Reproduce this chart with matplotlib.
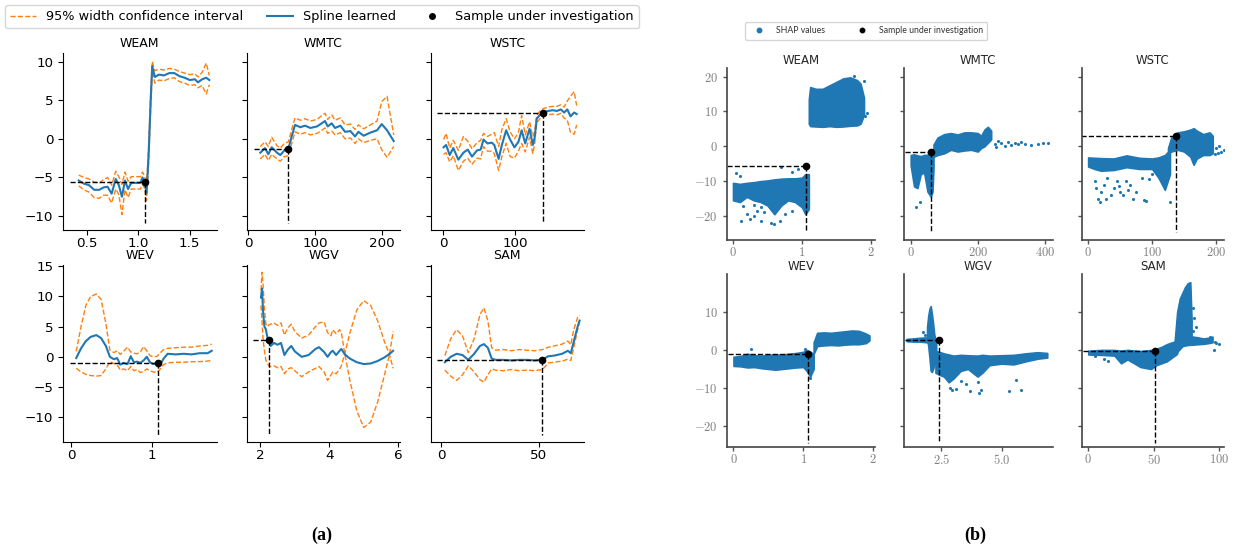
import matplotlib
matplotlib.use("Agg")
import matplotlib.pyplot as plt
from matplotlib.lines import Line2D
from matplotlib.ticker import FuncFormatter

W, H = 1233, 552
BLUE = "#1f77b4"
ORANGE = "#ff7f0e"
plt.rcParams["mathtext.fontset"] = "cm"

# ---------------- (a) learned splines ----------------
WEAM_X = [0.42, 0.47, 0.52, 0.57, 0.62, 0.66, 0.70, 0.74, 0.78, 0.81, 0.84, 0.87, 0.90, 0.93, 0.97,
          1.02, 1.04, 1.06, 1.08, 1.10, 1.12, 1.135, 1.16, 1.20, 1.25, 1.30, 1.35, 1.40, 1.45, 1.50,
          1.55, 1.58, 1.62, 1.66, 1.69]
WEAM_MID = [-5.4, -5.8, -6.0, -6.6, -6.6, -6.3, -6.2, -7.1, -5.2, -6.0, -7.5, -5.4, -6.5, -5.7, -5.7,
            -5.7, -5.0, -5.6, -7.0, -2.0, 5.0, 9.4, 8.0, 8.3, 8.2, 8.5, 8.5, 8.1, 7.9, 7.6,
            7.7, 7.3, 7.7, 7.9, 7.6]
WEAM_UP = [-4.7, -5.0, -5.2, -5.6, -5.7, -5.3, -5.0, -6.0, -4.2, -4.9, -5.9, -4.3, -5.5, -4.9, -4.9,
           -4.9, -4.3, -4.8, -6.0, -1.0, 6.0, 10.0, 8.8, 9.0, 8.9, 9.1, 9.0, 8.7, 8.5, 8.3,
           8.4, 8.0, 8.6, 9.8, 8.2]
WEAM_LO = [-6.1, -6.6, -6.9, -7.6, -7.7, -7.3, -7.3, -8.3, -6.5, -7.2, -9.8, -6.6, -7.6, -6.5, -6.5,
           -6.5, -5.9, -6.4, -8.0, -3.0, 4.0, 8.7, 7.2, 7.6, 7.5, 7.8, 7.9, 7.4, 7.2, 6.9,
           7.0, 6.6, 6.9, 5.8, 7.0]

WMTC_X = [18, 25, 30, 35, 43, 48, 54, 60, 65, 70, 78, 85, 93, 103, 110, 115, 119, 125, 130, 138,
          145, 153, 160, 165, 173, 183, 193, 200, 208, 218]
WMTC_MID = [-1.8, -1.2, -2.0, -1.1, -1.8, -2.1, -1.5, -1.3, 0.3, 1.8, 1.5, 1.7, 1.4, 1.6, 2.0, 2.3,
            1.6, 2.0, 1.4, 1.7, 0.9, 1.0, 0.3, 0.9, 0.4, 0.8, 1.1, 1.9, 1.1, -0.3]
WMTC_UP = [-1.0, -0.4, -1.0, 0.2, -0.9, -1.2, -0.6, -0.4, 1.2, 2.7, 2.4, 2.6, 2.3, 2.5, 3.0, 3.3,
           2.5, 3.1, 2.4, 2.7, 1.8, 1.9, 1.2, 1.8, 1.3, 1.8, 2.3, 4.8, 5.5, 0.5]
WMTC_LO = [-2.6, -2.0, -2.8, -2.0, -2.6, -2.9, -2.3, -2.2, -0.6, 0.9, 0.6, 0.8, 0.5, 0.7, 1.1, 1.4,
           0.7, 1.0, 0.5, 0.8, 0.0, 0.1, -0.6, 0.0, -0.5, -0.2, 0.0, -1.4, -2.4, -1.0]

WSTC_X = [0.5, 4, 9, 14, 21, 28, 34, 40, 47, 52, 56, 61.5, 67.5, 71, 77, 81.5, 87.5, 93, 99, 104.5,
          109, 114, 120, 124.5, 127, 130, 134.5, 139, 146, 152, 158, 163.5, 168, 172.5, 177, 182, 185.5]
WSTC_MID = [-1.1, -0.8, -2.1, -1.2, -2.7, -1.8, -1.4, -2.3, -1.5, -1.4, -0.1, -0.6, -0.5, -0.8, -2.6,
            -0.8, 1.1, -0.1, -1.1, -0.4, 1.1, -0.6, 1.3, -0.8, 0.1, 2.6, 3.1, 3.4, 3.6, 3.7, 3.6,
            3.8, 3.4, 3.8, 2.9, 3.4, 3.2]
WSTC_UP = [-0.1, 0.7, -1.2, -0.2, -1.5, 0.3, -0.3, -1.3, -0.5, -0.2, 0.7, 0.3, 0.6, 0.8, -1.0,
           1.2, 2.6, 0.9, 0.0, 0.8, 3.0, 0.5, 2.2, 0.3, 0.9, 3.0, 3.6, 3.9, 4.1, 4.2, 4.2,
           4.4, 4.1, 4.9, 5.5, 6.1, 4.3]
WSTC_LO = [-2.0, -1.8, -3.0, -2.2, -4.1, -2.9, -2.5, -3.3, -2.5, -2.6, -1.0, -1.6, -1.6, -1.9, -4.1,
           -2.3, -0.6, -2.3, -2.5, -1.6, -0.6, -1.7, 0.2, -1.9, -0.7, 2.1, 2.6, 2.9, 3.1, 3.2, 3.1,
           3.3, 2.7, 2.4, 0.8, 0.6, 1.8]

WEV_X = [0.06, 0.12, 0.18, 0.24, 0.31, 0.37, 0.43, 0.48, 0.53, 0.57, 0.61, 0.65, 0.70, 0.74, 0.78,
         0.82, 0.86, 0.90, 0.94, 0.98, 1.02, 1.07, 1.11, 1.15, 1.2, 1.3, 1.4, 1.5, 1.6, 1.7, 1.75]
WEV_MID = [-0.2, 1.4, 2.6, 3.3, 3.6, 3.1, 1.8, 0.0, -0.4, -0.2, -1.3, -1.0, -1.2, 0.1, -0.9,
           -0.8, -1.0, -0.6, 0.0, -0.9, -1.2, -1.0, -1.2, -0.3, 0.5, 0.4, 0.5, 0.4, 0.6, 0.6, 1.0]
WEV_UP = [0.9, 5.0, 8.5, 10.0, 10.4, 9.5, 5.5, 1.1, 0.7, 1.0, 0.4, 0.9, 1.6, 0.8, 0.6,
          0.5, 0.8, 1.7, 1.0, 0.2, 0.0, 0.1, 0.7, 1.2, 1.4, 1.5, 1.6, 1.6, 1.8, 1.9, 2.1]
WEV_LO = [-1.9, -2.5, -2.9, -3.1, -3.2, -3.1, -2.0, -0.8, -1.1, -1.3, -2.2, -2.0, -2.3, -1.6, -2.3,
          -2.1, -2.6, -2.4, -2.0, -2.3, -2.5, -2.6, -2.0, -1.3, -1.0, -0.9, -0.9, -0.8, -0.8, -0.7, -0.6]

WGV_X = [2.02, 2.05, 2.08, 2.12, 2.16, 2.2, 2.25, 2.3, 2.4, 2.5, 2.6, 2.7, 2.8, 2.9, 3.0, 3.2, 3.4,
         3.6, 3.7, 3.85, 3.95, 4.05, 4.1, 4.2, 4.3, 4.35, 4.45, 4.6, 4.8, 5.0, 5.2, 5.4, 5.6, 5.75, 5.85]
WGV_MID = [9.8, 11.3, 7.5, 5.0, 4.6, 3.4, 2.5, 1.8, 2.3, 2.0, 2.3, 0.3, 1.2, 1.8, 0.9, 0.0, 0.3,
           1.3, 1.6, 0.8, 0.0, 0.8, 1.0, 0.3, 1.0, 1.3, 0.4, -0.3, -0.9, -1.2, -1.1, -0.7, -0.1, 0.5, 1.0]
WGV_UP = [11.0, 14.0, 12.0, 8.0, 5.5, 5.0, 5.3, 5.4, 5.6, 5.2, 5.6, 3.6, 4.8, 5.4, 4.2, 3.1, 3.6,
          5.0, 5.6, 5.8, 4.0, 3.5, 4.5, 3.8, 4.5, 4.0, 0.5, -4.0, -9.0, -11.7, -10.8, -7.5, -3.0, 0.5, 4.2]
WGV_LO = [8.5, 6.0, 3.0, 1.0, -0.5, -1.0, -1.5, -1.6, -1.5, -1.8, -1.6, -2.8, -2.0, -1.8, -2.3, -3.3,
          -2.5, -1.9, -1.6, -2.5, -3.9, -3.0, -2.5, -2.8, -2.0, -1.5, 0.5, 4.0, 7.8, 9.3, 8.5, 6.0,
          2.5, 0.3, -1.9]

SAM_X = [2, 5, 8, 11, 14, 17, 20, 22, 24, 26, 28, 32, 36, 40, 44, 48, 52, 55, 58, 62, 65, 66.5, 68, 70, 71]
SAM_MID = [-0.9, 0.0, 0.5, 0.3, -0.5, 0.5, 1.8, 2.1, 1.5, -0.3, -0.5, -0.5, -0.6, -0.5, -0.5, -0.6,
           -0.45, 0.1, 0.2, 0.5, 1.0, 0.6, 2.5, 5.0, 6.0]
SAM_UP = [0.2, 3.0, 4.5, 3.5, 0.7, 3.0, 7.0, 8.1, 6.0, 1.5, 1.1, 1.2, 1.0, 1.2, 1.1, 1.0, 1.2, 1.6,
          1.8, 2.1, 2.6, 2.0, 4.5, 6.5, 6.9]
SAM_LO = [-2.2, -3.2, -3.9, -3.0, -1.5, -2.5, -3.8, -4.2, -3.0, -2.0, -2.2, -2.3, -2.1, -2.3, -2.2,
          -2.3, -2.1, -1.0, -0.9, -0.7, -0.4, -0.6, 1.5, 4.5, 5.8]

# sample under investigation: (x, y) and the ends of its guide lines
SPL_SAMPLE = {"WEAM": (1.06, -5.6), "WMTC": (60, -1.3), "WSTC": (139, 3.4),
              "WEV": (1.075, -1.0), "WGV": (2.24, 2.8), "SAM": (51.7, -0.45)}
SPL_HSTART = {"WEAM": 0.335, "WMTC": 9, "WSTC": -8, "WEV": -0.02, "WGV": 1.8, "SAM": -2}
SPL_VEND = {"WEAM": -10.9, "WMTC": -10.9, "WSTC": -10.9, "WEV": -12.9, "WGV": -12.9, "SAM": -12.9}

# ---------------- (b) SHAP clouds: (x, low, high) envelopes + loose points ----------------
S_WEAM_A_X = [0.0, 0.1, 0.2, 0.3, 0.4, 0.5, 0.6, 0.7, 0.8, 0.9, 1.0, 1.05, 1.1]
S_WEAM_A_HI = [-10.5, -10.8, -10.5, -10.3, -10.0, -9.8, -9.5, -9.3, -9.2, -9.2, -9.0, -8.0, -8.0]
S_WEAM_A_LO = [-15.5, -16.0, -14.5, -15.5, -16.0, -17.0, -19.5, -17.0, -15.5, -16.0, -17.5, -19.5, -18.0]
S_WEAM_B_X = [1.1, 1.12, 1.2, 1.3, 1.4, 1.5, 1.6, 1.7, 1.8, 1.85, 1.9]
S_WEAM_B_HI = [13.5, 17.0, 16.5, 16.5, 17.5, 18.5, 19.5, 19.8, 19.0, 18.0, 14.0]
S_WEAM_B_LO = [6.5, 5.8, 5.7, 5.6, 5.8, 5.6, 5.7, 5.9, 6.0, 6.5, 9.0]
S_WEAM_PX = [0.05, 0.1, 0.15, 0.2, 0.25, 0.3, 0.35, 0.4, 0.45, 0.55, 0.6, 0.68, 0.7, 0.75, 0.85, 0.95,
             0.85, 0.12, 0.3, 0.4, 1.95, 1.9, 1.75, 1.92]
S_WEAM_PY = [-7.8, -8.5, -17.0, -19.5, -21.0, -20.0, -18.5, -21.5, -19.0, -22.0, -22.3, -21.5, -6.0,
             -19.5, -7.5, -6.5, -18.5, -21.5, -16.8, -17.5, 9.5, 18.8, 20.3, 8.8]

S_WMTC_A_X = [0, 10, 20, 30, 40, 50, 60, 65, 68]
S_WMTC_A_HI = [-2.5, -2.3, -2.6, -2.8, -2.5, -2.4, -2.0, -1.8, -1.5]
S_WMTC_A_LO = [-5.5, -11.5, -12.0, -8.0, -7.5, -13.0, -14.5, -13.0, -6.0]
S_WMTC_B_X = [68, 80, 100, 120, 140, 160, 180, 200, 210, 220, 230, 240]
S_WMTC_B_HI = [0.5, 2.5, 3.5, 3.8, 3.4, 4.0, 4.0, 3.8, 3.0, 4.8, 5.6, 4.5]
S_WMTC_B_LO = [-3.0, -2.5, -2.0, -1.0, -1.5, -1.2, -1.0, -1.5, -0.5, 0.0, 1.0, 2.0]
S_WMTC_PX = [17, 27, 250, 260, 270, 280, 290, 300, 310, 320, 330, 340, 360, 380, 395, 410, 255]
S_WMTC_PY = [-17.5, -16.0, 0.8, 1.5, 1.0, 0.2, 1.2, 0.5, 1.0, 0.7, 1.3, 0.8, 0.5, 0.7, 0.9, 0.9, -0.3]

S_WSTC_A_X = [0, 10, 20, 40, 60, 80, 100, 110, 120, 128]
S_WSTC_A_HI = [-3.2, -3.3, -3.4, -3.5, -2.6, -3.3, -3.5, -3.2, -2.5, -1.0]
S_WSTC_A_LO = [-5.8, -6.5, -7.0, -6.8, -6.0, -6.5, -6.5, -9.0, -12.5, -8.0]
S_WSTC_B_X = [125, 130, 140, 150, 160, 165, 170, 180, 190, 195]
S_WSTC_B_HI = [-0.5, 2.5, 4.0, 4.3, 4.8, 5.2, 4.5, 3.5, 4.0, 3.0]
S_WSTC_B_LO = [-2.0, -1.5, -1.0, -1.5, -3.0, -5.3, -3.5, -2.5, -2.5, -2.0]
S_WSTC_PX = [10, 12, 15, 18, 20, 25, 28, 30, 35, 40, 45, 48, 50, 55, 60, 62, 65, 70, 75, 88, 90, 85,
             95, 100, 128, 200, 205, 208, 212, 198, 203]
S_WSTC_PY = [-10.0, -12.0, -15.0, -16.0, -13.0, -11.0, -15.0, -9.0, -14.0, -12.0, -10.0, -11.5, -13.0,
             -14.0, -10.0, -12.5, -11.0, -15.0, -13.0, -15.5, -15.8, -9.0, -9.5, -8.0, -16.0, -0.5,
             0.2, -1.5, -1.0, -2.2, -1.8]

S_WEV_A_X = [0, 0.1, 0.2, 0.3, 0.4, 0.5, 0.6, 0.7, 0.8, 0.9, 1.0, 1.05, 1.1, 1.15]
S_WEV_A_HI = [-1.8, -1.6, -1.0, -1.4, -1.5, -1.3, -1.2, -1.2, -1.0, -0.8, -0.5, 0.0, -0.5, -1.0]
S_WEV_A_LO = [-4.2, -4.3, -4.6, -4.5, -4.8, -5.0, -5.2, -5.0, -4.8, -4.6, -4.5, -5.5, -7.0, -5.0]
S_WEV_B_X = [1.15, 1.2, 1.3, 1.4, 1.5, 1.6, 1.7, 1.8, 1.9, 1.95]
S_WEV_B_HI = [2.0, 4.5, 4.6, 4.5, 4.7, 4.9, 5.1, 5.0, 4.3, 3.8]
S_WEV_B_LO = [-1.0, 1.0, 1.2, 1.3, 1.2, 1.4, 1.5, 1.5, 1.8, 2.5]
S_WEV_PX = [1.1, 0.25, 1.02]
S_WEV_PY = [-7.5, 0.2, 0.3]

S_WGV_A_X = [1.05, 1.3, 1.6, 1.9]
S_WGV_A_HI = [2.9, 3.0, 3.2, 3.3]
S_WGV_A_LO = [2.3, 2.2, 2.2, 2.0]
S_WGV_B_X = [1.9, 1.95, 2.0, 2.05, 2.1, 2.15, 2.2, 2.28]
S_WGV_B_HI = [6.0, 9.0, 10.8, 11.5, 9.5, 7.0, 4.0, 2.0]
S_WGV_B_LO = [3.0, 1.0, -2.0, -5.5, -5.8, -5.0, -4.0, -3.0]
S_WGV_C_X = [2.25, 2.4, 2.6, 2.8, 3.0, 3.3, 3.6, 4.0, 4.2, 4.5, 5.0, 5.5, 6.0, 6.5, 6.9]
S_WGV_C_HI = [-0.3, -0.5, -0.9, -1.2, -1.5, -1.3, -1.4, -1.5, -1.3, -1.5, -1.4, -1.3, -0.9, -0.6, -0.8]
S_WGV_C_LO = [-6.0, -6.5, -7.0, -8.5, -7.5, -5.5, -5.0, -7.0, -6.0, -4.0, -3.6, -3.8, -3.0, -2.3, -2.0]
S_WGV_PX = [2.85, 2.95, 3.1, 3.5, 3.7, 4.05, 4.15, 4.0, 3.3, 5.3, 5.6, 5.8, 1.75, 1.8]
S_WGV_PY = [-10.0, -10.5, -10.3, -9.0, -10.8, -11.2, -10.5, -8.5, -8.2, -10.9, -7.8, -10.4, 4.8, 4.0]

S_SAM_A_X = [0, 10, 20, 25, 30, 40, 48, 52, 56, 60, 64, 68]
S_SAM_A_HI = [-0.2, 0.0, 0.0, -0.2, 0.0, -0.3, 0.0, 0.3, 0.8, 1.5, 2.0, 2.3]
S_SAM_A_LO = [-1.2, -1.3, -1.5, -3.5, -2.5, -4.5, -5.0, -4.0, -3.5, -3.0, -2.0, -1.0]
S_SAM_B_X = [66, 68, 70, 72, 74, 76, 78, 79]
S_SAM_B_HI = [2.0, 10.0, 13.5, 15.0, 16.5, 17.5, 17.8, 8.0]
S_SAM_B_LO = [-1.0, 0.0, 1.0, 1.2, 1.5, 1.5, 2.0, 2.0]
S_SAM_C_X = [68, 72, 76, 80, 84, 88, 92, 95]
S_SAM_C_HI = [2.5, 3.5, 3.6, 3.5, 3.3, 3.0, 3.2, 3.5]
S_SAM_C_LO = [-0.5, 1.0, 1.3, 1.4, 1.5, 1.6, 1.8, 2.0]
S_SAM_PX = [80, 81, 82, 80, 98, 100, 96, 97, 93, 12, 15, 5]
S_SAM_PY = [11.0, 8.5, 6.0, 5.0, 1.8, 1.5, 0.0, 2.2, 3.5, -2.5, -3.0, -1.5]

SHAP_SAMPLE = {"WEAM": (1.06, -5.7), "WMTC": (60, -1.5), "WSTC": (138, 3.0),
               "WEV": (1.07, -1.0), "WGV": (2.38, 2.7), "SAM": (51.2, -0.4)}
SHAP_HSTART = {"WEAM": -0.08, "WMTC": -18, "WSTC": -10.5, "WEV": -0.08, "WGV": 0.98, "SAM": -4.4}
SHAP_VEND = {"WEAM": -24.5, "WMTC": -24.5, "WSTC": -24.5, "WEV": -24.4, "WGV": -24.4, "SAM": -24.4}


def add_box(fig, left, right, top, bottom):
    return fig.add_axes([left / W, 1 - bottom / H, (right - left) / W, (bottom - top) / H])


def spline_panel(ax, name, x, mid, up, lo, xlim, ylim, xticks, yticks, show_y):
    ax.plot(x, up, ls="--", color=ORANGE, lw=1)
    ax.plot(x, lo, ls="--", color=ORANGE, lw=1)
    ax.plot(x, mid, color=BLUE, lw=1.5)
    sx, sy = SPL_SAMPLE[name]
    ax.plot([SPL_HSTART[name], sx], [sy, sy], color="k", ls="--", lw=1)
    ax.plot([sx, sx], [sy, SPL_VEND[name]], color="k", ls="--", lw=1)
    ax.plot(sx, sy, "o", color="k", ms=4.5, zorder=5)
    ax.set_xlim(xlim)
    ax.set_ylim(ylim)
    ax.set_xticks(xticks)
    ax.set_yticks(yticks)
    ax.set_title(name, fontsize=9, pad=4)
    ax.tick_params(labelsize=9.7, labelleft=show_y)
    ax.tick_params(axis="x", pad=1.5)
    for s in ("top", "right"):
        ax.spines[s].set_visible(False)


def shap_panel(ax, name, blobs, px, py, xlim, ylim, xticks, yticks, show_y, fmt):
    for bx, lo, hi in blobs:
        ax.fill_between(bx, lo, hi, color=BLUE, lw=1.2, edgecolor=BLUE)
    ax.scatter(px, py, s=5, color=BLUE, lw=0)
    sx, sy = SHAP_SAMPLE[name]
    ax.plot([SHAP_HSTART[name], sx], [sy, sy], color="k", ls="--", lw=1)
    ax.plot([sx, sx], [sy, SHAP_VEND[name]], color="k", ls="--", lw=1)
    ax.plot(sx, sy, "o", color="k", ms=4.5, zorder=5)
    ax.set_xlim(xlim)
    ax.set_ylim(ylim)
    ax.set_xticks(xticks)
    ax.set_yticks(yticks)
    ax.xaxis.set_major_formatter(FuncFormatter(lambda v, _: fmt.format(v)))
    ax.yaxis.set_major_formatter(FuncFormatter(lambda v, _: "${:g}$".format(v)))
    ax.set_title(name, fontsize=8.5, color="#262626", pad=3)
    ax.tick_params(labelsize=9, labelleft=show_y, colors="#555555", labelcolor="#808080",
                   length=3, width=1)
    ax.tick_params(axis="x", pad=1.5)
    for s in ("top", "right"):
        ax.spines[s].set_visible(False)
    for s in ("left", "bottom"):
        ax.spines[s].set_color("#444444")
        ax.spines[s].set_linewidth(1.2)


fig = plt.figure(figsize=(W / 100, H / 100), dpi=100)

# ---- panel (a) ----
COL_A = [(63, 216.5), (247, 400), (431, 583.5)]
ROW_A = [(53, 230), (265, 442)]
YLIM_A = [(-11.8, 11.1), (-14.1, 15.2)]
YT_A = [[-10, -5, 0, 5, 10], [-10, -5, 0, 5, 10, 15]]

spl = [
    ("WEAM", WEAM_X, WEAM_MID, WEAM_UP, WEAM_LO, (0.267, 1.76), [0.5, 1.0, 1.5]),
    ("WMTC", WMTC_X, WMTC_MID, WMTC_UP, WMTC_LO, (-2, 227.4), [0, 100, 200]),
    ("WSTC", WSTC_X, WSTC_MID, WSTC_UP, WSTC_LO, (-17, 195), [0, 100]),
    ("WEV", WEV_X, WEV_MID, WEV_UP, WEV_LO, (-0.105, 1.81), [0, 1]),
    ("WGV", WGV_X, WGV_MID, WGV_UP, WGV_LO, (1.615, 6.05), [2, 4, 6]),
    ("SAM", SAM_X, SAM_MID, SAM_UP, SAM_LO, (-5.1, 73), [0, 50]),
]
for i, (name, x, mid, up, lo, xlim, xt) in enumerate(spl):
    r, c = divmod(i, 3)
    ax = add_box(fig, COL_A[c][0], COL_A[c][1], ROW_A[r][0], ROW_A[r][1])
    spline_panel(ax, name, x, mid, up, lo, xlim, YLIM_A[r], xt, YT_A[r], c == 0)

handles_a = [
    Line2D([], [], color=ORANGE, ls="--", lw=1),
    Line2D([], [], color=BLUE, lw=1.5),
    Line2D([], [], color="k", marker="o", ls="none", ms=4),
]
fig.legend(handles_a, ["95% width confidence interval", "Spline learned", "Sample under investigation"],
           loc="upper left", bbox_to_anchor=(5 / W, 1 - 5 / H), borderaxespad=0, ncol=3, fontsize=9.3,
           frameon=True, columnspacing=1.8, handlelength=2.0, borderpad=0.4)

# ---- panel (b) ----
COL_B = [(727, 875), (904, 1052.5), (1081.5, 1224)]
ROW_B = [(68.3, 240), (273.8, 447)]
YLIM_B = [(-26.9, 22.4), (-25.5, 20.0)]
YT_B = [[-20, -10, 0, 10, 20], [-20, -10, 0, 10]]

shap = [
    ("WEAM", [(S_WEAM_A_X, S_WEAM_A_LO, S_WEAM_A_HI), (S_WEAM_B_X, S_WEAM_B_LO, S_WEAM_B_HI)],
     S_WEAM_PX, S_WEAM_PY, (-0.087, 2.06), [0, 1, 2], "${:g}$"),
    ("WMTC", [(S_WMTC_A_X, S_WMTC_A_LO, S_WMTC_A_HI), (S_WMTC_B_X, S_WMTC_B_LO, S_WMTC_B_HI)],
     S_WMTC_PX, S_WMTC_PY, (-20, 423), [0, 200, 400], "${:g}$"),
    ("WSTC", [(S_WSTC_A_X, S_WSTC_A_LO, S_WSTC_A_HI), (S_WSTC_B_X, S_WSTC_B_LO, S_WSTC_B_HI)],
     S_WSTC_PX, S_WSTC_PY, (-10.4, 212.6), [0, 100, 200], "${:g}$"),
    ("WEV", [(S_WEV_A_X, S_WEV_A_LO, S_WEV_A_HI), (S_WEV_B_X, S_WEV_B_LO, S_WEV_B_HI)],
     S_WEV_PX, S_WEV_PY, (-0.093, 2.03), [0, 1, 2], "${:g}$"),
    ("WGV", [(S_WGV_A_X, S_WGV_A_LO, S_WGV_A_HI), (S_WGV_B_X, S_WGV_B_LO, S_WGV_B_HI),
             (S_WGV_C_X, S_WGV_C_LO, S_WGV_C_HI)],
     S_WGV_PX, S_WGV_PY, (0.94, 7.12), [2.5, 5.0], "${:.1f}$"),
    ("SAM", [(S_SAM_A_X, S_SAM_A_LO, S_SAM_A_HI), (S_SAM_B_X, S_SAM_B_LO, S_SAM_B_HI),
             (S_SAM_C_X, S_SAM_C_LO, S_SAM_C_HI)],
     S_SAM_PX, S_SAM_PY, (-5.2, 103.8), [0, 50, 100], "${:g}$"),
]
for i, (name, blobs, px, py, xlim, xt, fmt) in enumerate(shap):
    r, c = divmod(i, 3)
    ax = add_box(fig, COL_B[c][0], COL_B[c][1], ROW_B[r][0], ROW_B[r][1])
    shap_panel(ax, name, blobs, px, py, xlim, YLIM_B[r], xt, YT_B[r], c == 0, fmt)

handles_b = [
    Line2D([], [], color=BLUE, marker="o", ls="none", ms=3.2),
    Line2D([], [], color="k", marker="o", ls="none", ms=3.2),
]
fig.legend(handles_b, ["SHAP values", "Sample under investigation"],
           loc="upper left", bbox_to_anchor=(745 / W, 1 - 22 / H), borderaxespad=0, ncol=2,
           frameon=True, columnspacing=3.2, handlelength=2.2, borderpad=0.5,
           prop={"family": "Lato", "size": 6.3}, labelcolor="#333333")

fig.text(322 / W, 1 - 535 / H, "(a)", ha="center", va="center", fontsize=13,
         fontweight="bold", family="Liberation Serif")
fig.text(975 / W, 1 - 535 / H, "(b)", ha="center", va="center", fontsize=13,
         fontweight="bold", family="Liberation Serif")

fig.savefig("out.png", dpi=100)
